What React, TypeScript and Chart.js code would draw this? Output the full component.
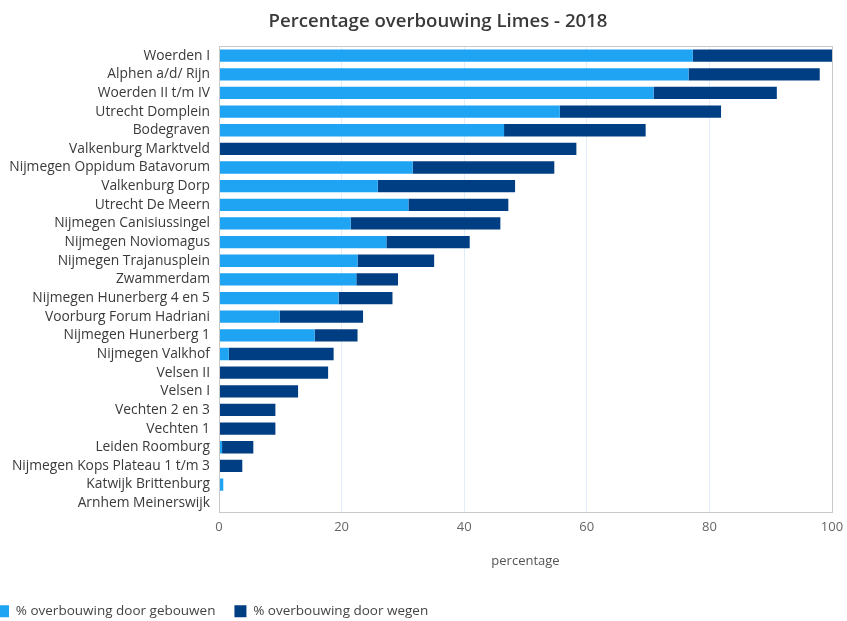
import React, { useEffect, useRef } from "react";
import { Chart, registerables } from "chart.js";

Chart.register(...registerables);

const categories = [
  "Woerden I",
  "Alphen a/d/ Rijn",
  "Woerden II t/m IV",
  "Utrecht Domplein",
  "Bodegraven",
  "Valkenburg Marktveld",
  "Nijmegen Oppidum Batavorum",
  "Valkenburg Dorp",
  "Utrecht De Meern",
  "Nijmegen Canisiussingel",
  "Nijmegen Noviomagus",
  "Nijmegen Trajanusplein",
  "Zwammerdam",
  "Nijmegen Hunerberg 4 en 5",
  "Voorburg Forum Hadriani",
  "Nijmegen Hunerberg 1",
  "Nijmegen Valkhof",
  "Velsen II",
  "Velsen I",
  "Vechten 2 en 3",
  "Vechten 1",
  "Leiden Roomburg",
  "Nijmegen Kops Plateau 1 t/m 3",
  "Katwijk Brittenburg",
  "Arnhem Meinerswijk",
];

const gebouwen = [
  77.3, 76.6, 70.9, 55.6, 46.5, 0, 31.6, 25.9, 30.9, 21.5, 27.3, 22.6, 22.4,
  19.5, 9.9, 15.6, 1.6, 0, 0, 0, 0, 0.5, 0, 0.7, 0,
];

const wegen = [
  22.7, 21.4, 20.1, 26.3, 23.1, 58.3, 23.1, 22.4, 16.3, 24.4, 13.6, 12.5, 6.8,
  8.8, 13.6, 7.0, 17.1, 17.8, 12.9, 9.2, 9.2, 5.1, 3.8, 0, 0,
];

const seriesNames = ["% overbouwing door gebouwen", "% overbouwing door wegen"];
const titleText = "Percentage overbouwing Limes - 2018";
const xAxisTitle = "percentage";

const FONT = "'Open Sans', 'Noto Sans', sans-serif";

const borderPlugin = {
  id: "areaBorder",
  afterDraw(chart: any) {
    const { ctx, chartArea } = chart;
    ctx.save();
    ctx.strokeStyle = "#c9c9c9";
    ctx.lineWidth = 1;
    ctx.strokeRect(
      Math.round(chartArea.left) + 0.5,
      Math.round(chartArea.top) + 0.5,
      Math.round(chartArea.right - chartArea.left),
      Math.round(chartArea.bottom - chartArea.top)
    );
    ctx.restore();
  },
};

export default function App() {
  const ref = useRef<HTMLCanvasElement | null>(null);

  useEffect(() => {
    if (!ref.current) return;
    const chart = new Chart(ref.current, {
      type: "bar",
      data: {
        labels: categories,
        datasets: [
          {
            label: seriesNames[0],
            data: gebouwen,
            backgroundColor: "#1ea4f2",
            borderWidth: 0,
            barPercentage: 0.66,
            categoryPercentage: 1,
          },
          {
            label: seriesNames[1],
            data: wegen,
            backgroundColor: "#003e84",
            borderWidth: 0,
            barPercentage: 0.66,
            categoryPercentage: 1,
          },
        ],
      },
      options: {
        indexAxis: "y",
        animation: false,
        responsive: true,
        maintainAspectRatio: false,
        layout: { padding: 0 },
        plugins: {
          title: {
            display: true,
            text: titleText,
            color: "#3a3a3a",
            font: { family: FONT, size: 18.6, weight: 600 },
            padding: { top: 11, bottom: 13 },
          },
          legend: {
            position: "bottom",
            align: "start",
            labels: {
              boxWidth: 12,
              boxHeight: 12,
              color: "#444444",
              font: { family: FONT, size: 13.5 },
              padding: 19,
            },
          },
          tooltip: { enabled: false },
        },
        scales: {
          x: {
            stacked: true,
            min: 0,
            max: 100,
            ticks: {
              stepSize: 20,
              color: "#666666",
              font: { family: FONT, size: 13 },
              padding: 7,
            },
            grid: { color: "#e2effb", drawTicks: false },
            border: { display: true, color: "#c9c9c9" },
            title: {
              display: true,
              text: xAxisTitle,
              color: "#555555",
              font: { family: FONT, size: 13 },
              padding: { top: 4, bottom: 16 },
            },
            afterFit: (s: any) => {
              s.height = 73;
            },
          },
          y: {
            stacked: true,
            position: "left",
            ticks: {
              color: "#3a3a3a",
              font: { family: FONT, size: 13.8 },
              padding: 9,
              autoSkip: false,
            },
            grid: { display: false, drawTicks: false },
            border: { display: true, color: "#c9c9c9" },
            afterFit: (s: any) => {
              s.width = 241;
            },
          },
          yRight: {
            type: "category",
            position: "right",
            display: true,
            labels: categories,
            ticks: { display: false },
            grid: { display: false, drawTicks: false },
            border: { display: false },
            afterFit: (s: any) => {
              s.width = 66;
            },
          },
        },
      },
      plugins: [borderPlugin],
    });
    return () => chart.destroy();
  }, []);

  return (
    <div
      style={{
        position: "fixed",
        left: 0,
        top: 0,
        width: 847,
        height: 621,
        overflow: "hidden",
        background: "#ffffff",
      }}
    >
      <div
        style={{
          position: "absolute",
          left: -22,
          top: 0,
          width: 920,
          height: 628,
        }}
      >
        <canvas ref={ref} />
      </div>
    </div>
  );
}
